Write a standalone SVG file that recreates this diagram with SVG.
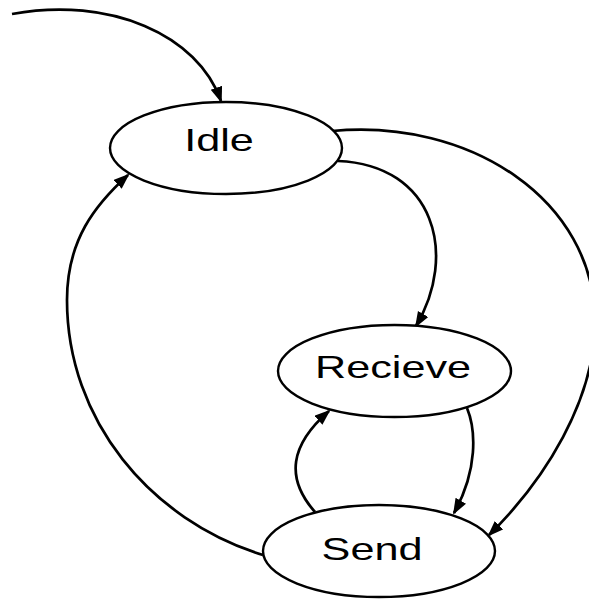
<svg xmlns="http://www.w3.org/2000/svg" width="589" height="599" viewBox="0 0 589 599">
  <defs>
    <marker id="arrow" markerUnits="userSpaceOnUse" markerWidth="18" markerHeight="14" refX="14" refY="6" orient="auto">
      <path d="M0,0 L16,6 L0,12 z" fill="#000"/>
    </marker>
  </defs>
  <style>
    .state ellipse { fill: #fff; stroke: #000; stroke-width: 2.4; }
    .state text { font-family: "Liberation Sans", Arial, sans-serif; font-size: 32px; fill: #000; text-anchor: middle; }
    .edges path { fill: none; stroke: #000; stroke-width: 2.7; marker-end: url(#arrow); }
  </style>
  <rect width="589" height="599" fill="#fff"/>

  <g class="edges" id="connectors">
    <!-- initial transition -->
    <path d="M12,14 C110,-4 198,35 221,101"/>
    <!-- Idle to Recieve -->
    <path d="M338,161 C435,165 458,255 416,326"/>
    <!-- Idle to Send, outer arc -->
    <path d="M332,131 C470,118 595,200 595,322 C595,400 545,480 489,535"/>
    <!-- Recieve to Send -->
    <path d="M467,408 C476,430 478,470 454,513"/>
    <!-- Send to Recieve -->
    <path d="M315,512 C285,478 290,445 329,411"/>
    <!-- Send to Idle, outer arc -->
    <path d="M263,555 C150,520 67,420 67,300 C67,240 95,205 128,175"/>
  </g>

  <g class="state" id="idle">
    <ellipse cx="226" cy="148" rx="116" ry="46"/>
    <text transform="translate(219,151) scale(1.35,1)">Idle</text>
  </g>
  <g class="state" id="recieve">
    <ellipse cx="394.5" cy="371" rx="116.5" ry="46"/>
    <text transform="translate(393,377.5) scale(1.35,1)">Recieve</text>
  </g>
  <g class="state" id="send">
    <ellipse cx="379" cy="551" rx="116" ry="46"/>
    <text transform="translate(372,560) scale(1.35,1)">Send</text>
  </g>
</svg>
